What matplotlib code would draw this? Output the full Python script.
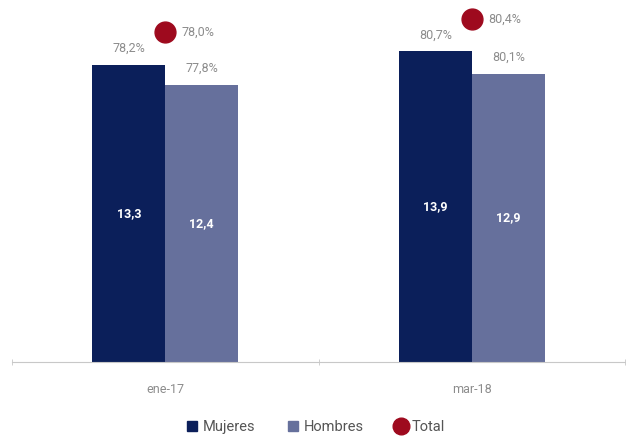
import matplotlib.pyplot as plt
import numpy as np
from matplotlib.lines import Line2D
from matplotlib.patches import Patch

plt.rcParams['font.family'] = ['Roboto', 'DejaVu Sans']

# Data
categories = ['ene-17', 'mar-18']
mujeres = [13.3, 13.9]
hombres = [12.4, 12.9]
pct_mujeres = ['78,2%', '80,7%']
pct_hombres = ['77,8%', '80,1%']
total = [78.0, 80.4]
total_labels = ['78,0%', '80,4%']

# Style
NAVY = '#0b1f5a'
SLATE = '#66709c'
RED = '#9e0a1e'
GREY = '#8c8c8c'
AXIS = '#c8c8c8'
DPI = 100
WIDTH = 626.0
HEIGHT = 436.0
BAR_W = 0.238


def fmt(v):
    return f'{v:.1f}'.replace('.', ',')


fig = plt.figure(figsize=(WIDTH / DPI, HEIGHT / DPI), dpi=DPI)
ax = fig.add_axes([12 / WIDTH, (HEIGHT - 362) / HEIGHT, 613 / WIDTH, 362 / HEIGHT])

x = np.arange(len(categories))
b1 = ax.bar(x - BAR_W / 2, mujeres, BAR_W, color=NAVY, zorder=2)
b2 = ax.bar(x + BAR_W / 2, hombres, BAR_W, color=SLATE, zorder=2)

ax.set_xlim(-0.5, len(categories) - 0.5)
ax.set_ylim(0, 16.2)

for bars, vals, pcts in [(b1, mujeres, pct_mujeres), (b2, hombres, pct_hombres)]:
    for rect, v, p in zip(bars, vals, pcts):
        cx = rect.get_x() + rect.get_width() / 2
        ax.text(cx, v / 2, fmt(v), ha='center', va='center', color='white',
                fontsize=9, fontweight='bold')
        ax.annotate(p, (cx, v), xytext=(0, 7), textcoords='offset points',
                    ha='center', va='bottom', color=GREY, fontsize=9)

# Total on a secondary scale
ax2 = ax.twinx()
ax2.set_ylim(17.1, 83.9)
ax2.plot(x, total, 'o', color=RED, markersize=15, linestyle='none',
         clip_on=False, zorder=3)
for xi, t, lab in zip(x, total, total_labels):
    ax2.annotate(lab, (xi, t), xytext=(12, 0), textcoords='offset points',
                 ha='left', va='center', color=GREY, fontsize=9)
ax2.axis('off')

# Axes styling
for side in ['top', 'right', 'left']:
    ax.spines[side].set_visible(False)
ax.spines['bottom'].set_color(AXIS)
ax.set_yticks([])
ax.set_xticks(x)
ax.set_xticklabels(categories, color=GREY, fontsize=9)
ax.tick_params(axis='x', length=0, pad=15)
ax.set_xticks([-0.5, 0.5, 1.5], minor=True)
ax.tick_params(axis='x', which='minor', length=5, color=AXIS, direction='inout')

handles = [
    Patch(color=NAVY, label='Mujeres'),
    Patch(color=SLATE, label='Hombres'),
    Line2D([], [], marker='o', color=RED, linestyle='none', markersize=12,
           label='Total'),
]
fig.legend(handles=handles, loc='center', bbox_to_anchor=(0.505, (HEIGHT - 427) / HEIGHT),
           ncol=3, frameon=False, fontsize=10.5, handlelength=0.7, handleheight=0.7,
           handletextpad=0.4, columnspacing=2.2, labelcolor='#555555')

plt.savefig('out.png', dpi=DPI)
